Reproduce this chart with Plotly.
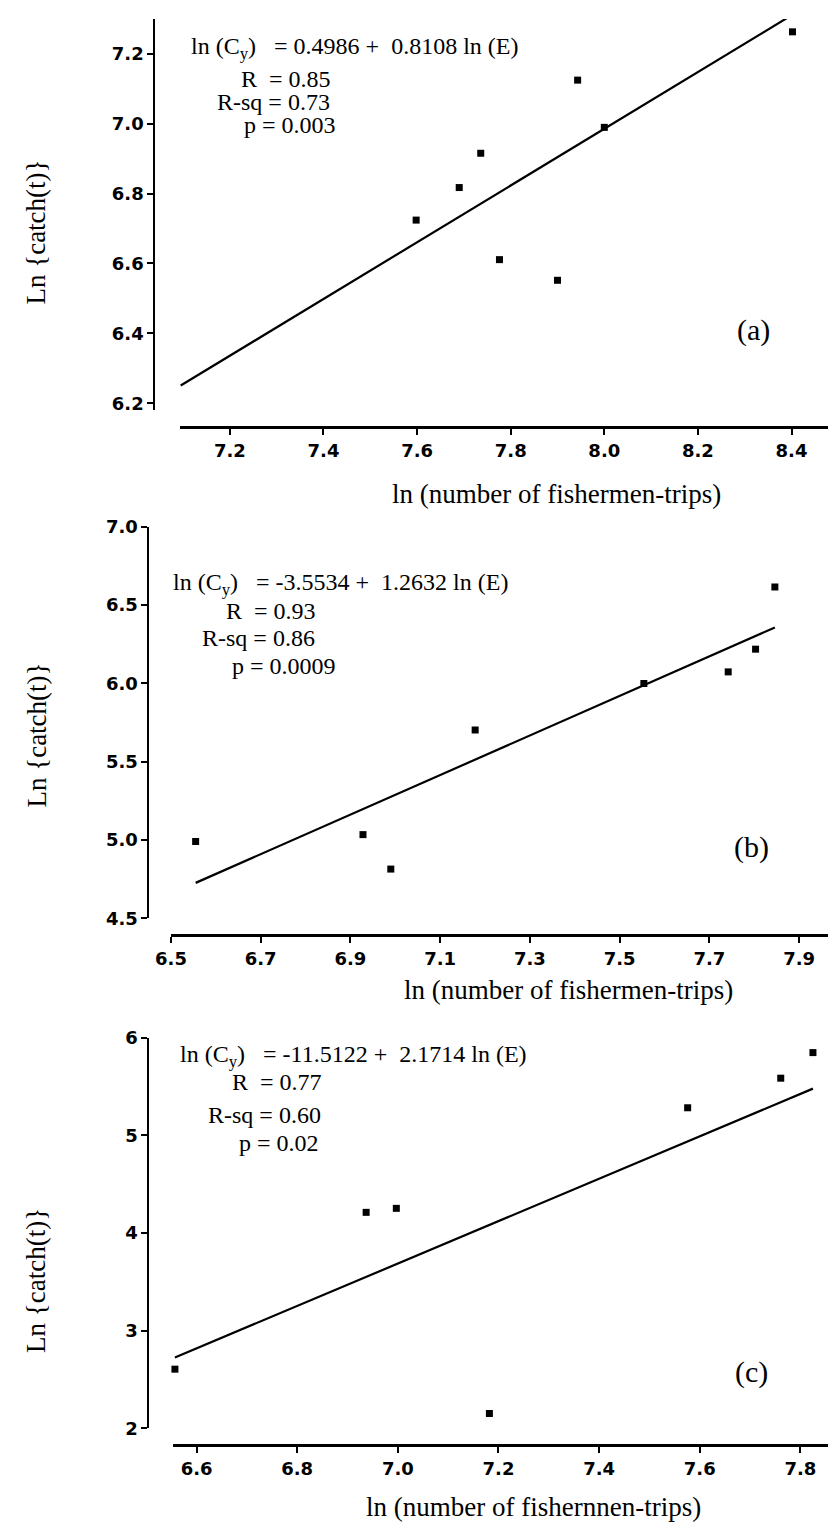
import plotly.graph_objects as go

W, H = 830, 1535

# ---------------- data ----------------
# Panel (a)
a_x = [7.095, 7.598, 7.690, 7.736, 7.776, 7.900, 7.943, 8.000, 8.402]
a_y = [6.175, 6.724, 6.817, 6.915, 6.611, 6.552, 7.124, 6.989, 7.262]
a_coef = (0.4986, 0.8108)
a_xticks = [7.2, 7.4, 7.6, 7.8, 8.0, 8.2, 8.4]
a_yticks = [6.2, 6.4, 6.6, 6.8, 7.0, 7.2]
a_text = ["ln (C<sub>y</sub>)\u00a0\u00a0 = 0.4986 +\u00a0 0.8108 ln (E)",
          "R\u00a0 = 0.85", "R-sq = 0.73", "p = 0.003"]

# Panel (b)
b_x = [6.555, 6.928, 6.990, 7.178, 7.554, 7.742, 7.803, 7.846]
b_y = [4.991, 5.035, 4.815, 5.703, 6.000, 6.074, 6.219, 6.616]
b_coef = (-3.5534, 1.2632)
b_xticks = [6.5, 6.7, 6.9, 7.1, 7.3, 7.5, 7.7, 7.9]
b_yticks = [4.5, 5.0, 5.5, 6.0, 6.5, 7.0]
b_text = ["ln (C<sub>y</sub>)\u00a0\u00a0 = -3.5534 +\u00a0 1.2632 ln (E)",
          "R\u00a0 = 0.93", "R-sq = 0.86", "p = 0.0009"]

# Panel (c)
c_x = [6.557, 6.937, 6.997, 7.182, 7.576, 7.761, 7.825]
c_y = [2.606, 4.212, 4.253, 2.152, 5.283, 5.586, 5.848]
c_coef = (-11.5122, 2.1714)
c_xticks = [6.6, 6.8, 7.0, 7.2, 7.4, 7.6, 7.8]
c_yticks = [2, 3, 4, 5, 6]
c_text = ["ln (C<sub>y</sub>)\u00a0\u00a0 = -11.5122 +\u00a0 2.1714 ln (E)",
          "R\u00a0 = 0.77", "R-sq = 0.60", "p = 0.02"]

y_title = "Ln {catch(t)}"
x_titles = ["ln (number of fishermen-trips)", "ln (number of fishermen-trips)",
            "ln (number of fishernnen-trips)"]
panel_labels = ["(a)", "(b)", "(c)"]

# ---------------- layout (pixels) ----------------
def fx(px):
    return px / W

def fy(py):
    return 1 - py / H

panels = [
    dict(x=a_x, y=a_y, coef=a_coef, xt=a_xticks, yt=a_yticks, text=a_text, xfmt=".1f", yfmt=".1f",
         xdom=(167, 828), xr=(7.093, 8.478), ydom=(8, 405), yr=(6.180, 7.299),
         yax=141, xax=422,
         eq=[(176, 38), (227, 69), (203, 92), (230, 116)],
         ytitle=(20, 224), xtitle=(551, 490), lab=(752, 323)),
    dict(x=b_x, y=b_y, coef=b_coef, xt=b_xticks, yt=b_yticks, text=b_text, xfmt=".1f", yfmt=".1f",
         xdom=(158, 828), xr=(6.5, 7.9645), ydom=(523, 920), yr=(4.5, 7.0),
         yax=135, xax=937,
         eq=[(158, 581), (212, 608), (188, 636), (218, 664)],
         ytitle=(21, 734), xtitle=(563, 993), lab=(750, 848)),
    dict(x=c_x, y=c_y, coef=c_coef, xt=c_xticks, yt=c_yticks, text=c_text, xfmt=".1f", yfmt="d",
         xdom=(160, 828), xr=(6.553, 7.855), ydom=(1041, 1437), yr=(2.0, 6.0),
         yax=135, xax=1454,
         eq=[(165, 1059), (218, 1086), (194, 1119), (225, 1148)],
         ytitle=(21, 1287), xtitle=(528, 1517), lab=(750, 1380)),
]

fig = go.Figure()
annotations = []
tickfont = dict(family="DejaVu Sans", size=18, color="black", weight="bold")
serif = "Liberation Serif"

for i, p in enumerate(panels):
    k = "" if i == 0 else str(i + 1)
    xa, ya = "x" + k, "y" + k
    fig.add_trace(go.Scatter(x=p["x"], y=p["y"], mode="markers", xaxis=xa, yaxis=ya,
                             marker=dict(symbol="square", size=7, color="black"),
                             cliponaxis=False, showlegend=False))
    x0, x1 = min(p["x"]), max(p["x"])
    b0, b1 = p["coef"]
    fig.add_trace(go.Scatter(x=[x0, x1], y=[b0 + b1 * x0, b0 + b1 * x1], mode="lines",
                             xaxis=xa, yaxis=ya, line=dict(color="black", width=2.2),
                             cliponaxis=False, showlegend=False))
    xaxis = dict(domain=[fx(p["xdom"][0]), fx(p["xdom"][1])], range=list(p["xr"]),
                 anchor="free", position=fy(p["xax"]),
                 showline=True, linecolor="black", linewidth=3,
                 ticks="outside", ticklen=6, tickwidth=1.5, tickcolor="black",
                 tickvals=p["xt"], tickformat=p["xfmt"], tickfont=tickfont,
                 showgrid=False, zeroline=False)
    yaxis = dict(domain=[fy(p["ydom"][1]), fy(p["ydom"][0])], range=list(p["yr"]),
                 anchor="free", position=fx(p["yax"]),
                 showline=True, linecolor="black", linewidth=2,
                 ticks="outside", ticklen=6, tickwidth=1.5, tickcolor="black",
                 tickvals=p["yt"], tickformat=p["yfmt"], tickfont=tickfont,
                 showgrid=False, zeroline=False)
    fig.update_layout(**{"xaxis" + k: xaxis, "yaxis" + k: yaxis})

    for (px, py), t in zip(p["eq"], p["text"]):
        annotations.append(dict(x=fx(px), y=fy(py), xref="paper", yref="paper",
                                xanchor="left", yanchor="middle", text=t, showarrow=False,
                                font=dict(family=serif, size=24, color="black")))
    annotations.append(dict(x=fx(p["ytitle"][0]), y=fy(p["ytitle"][1]), xref="paper", yref="paper",
                            xanchor="center", yanchor="middle", text=y_title, textangle=-90,
                            showarrow=False, font=dict(family=serif, size=27, color="black")))
    annotations.append(dict(x=fx(p["xtitle"][0]), y=fy(p["xtitle"][1]), xref="paper", yref="paper",
                            xanchor="center", yanchor="middle", text=x_titles[i],
                            showarrow=False, font=dict(family=serif, size=27, color="black")))
    annotations.append(dict(x=fx(p["lab"][0]), y=fy(p["lab"][1]), xref="paper", yref="paper",
                            xanchor="center", yanchor="middle", text=panel_labels[i],
                            showarrow=False, font=dict(family=serif, size=30, color="black")))

fig.update_layout(width=W, height=H, margin=dict(l=0, r=0, t=0, b=0),
                  paper_bgcolor="white", plot_bgcolor="white",
                  annotations=annotations, showlegend=False)

fig.write_html("out.html")
